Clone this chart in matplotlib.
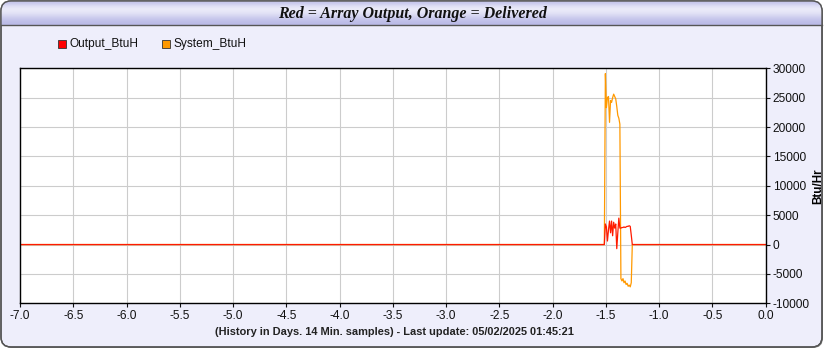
import numpy as np
import matplotlib
matplotlib.use('Agg')
import matplotlib.pyplot as plt
from matplotlib.patches import FancyBboxPatch, Rectangle

# history window, in days before now
x_start, x_end = -7.0, 0.0
sample_days = 14 / 1440.0      # 14 minute samples
spike_start = -1.505           # first non-zero sample

# readings during the active period (one per sample)
system_spike = [29100, 23300, 25000, 25200, 20800, 24500, 24200, 25000, 25600,
                25200, 24800, 23500, 22000, 21500, 20500, -5800, -6200, -5800,
                -6500, -6200, -6800, -6600, -7100, -6900, -7200, -6500, 0]
output_spike = [3500, 3000, 600, 2500, 4000, 2000, 4000, 1500, 3800,
                2800, 3500, -700, 2000, 4500, 2800, 2800, 2900, 2900,
                3000, 2900, 3000, 3100, 3100, 3200, 3100, 1600, 0]

spike_days = spike_start + sample_days * np.arange(len(system_spike))
days = np.concatenate([[x_start, spike_start - sample_days], spike_days, [x_end]])
system_btuh = np.concatenate([[0, 0], system_spike, [0]])
output_btuh = np.concatenate([[0, 0], output_spike, [0]])

title = 'Red = Array Output, Orange = Delivered'
footer = '(History in Days. 14 Min. samples) - Last update: 05/02/2025 01:45:21'
x_ticks = np.arange(-7.0, 0.01, 0.5)
y_ticks = np.arange(-10000, 30001, 5000)

W, H = 825, 350
fig = plt.figure(figsize=(W / 100, H / 100), dpi=100)
fig.patch.set_facecolor('white')

# background frame in pixel coords
bg = fig.add_axes([0, 0, 1, 1], zorder=0)
bg.set_xlim(0, W)
bg.set_ylim(H, 0)
bg.axis('off')
shadow = FancyBboxPatch((3, 3), W - 5, H - 5, boxstyle='round,pad=0,rounding_size=10',
                        fc='#9a9a9a', ec='none', zorder=0)
bg.add_patch(shadow)
frame = FancyBboxPatch((1, 1), W - 4, H - 4, boxstyle='round,pad=0,rounding_size=10',
                       fc='#eeeefb', ec='#555555', lw=1.0, zorder=1)
bg.add_patch(frame)
grad = np.array([0.80, 0.92, 0.97, 0.93, 0.86, 0.80, 0.76])[:, None]
cmap = matplotlib.colors.LinearSegmentedColormap.from_list('banner', ['#b8b8e6', '#f4f4fd'])
im = bg.imshow(grad, cmap=cmap, vmin=0.75, vmax=1.0, aspect='auto',
               extent=(1, W - 3, 25, 1), interpolation='bicubic', zorder=2)
im.set_clip_path(frame)
bg.plot([1, W - 3], [25, 25], color='#555555', lw=1.0, zorder=3)
bg.add_patch(FancyBboxPatch((1, 1), W - 4, H - 4, boxstyle='round,pad=0,rounding_size=10',
                            fc='none', ec='#555555', lw=1.0, zorder=4))
bg.text(W / 2, 14, title, ha='center', va='center', fontsize=11.5,
        family='Liberation Serif', style='italic', weight='bold', color='#111111', zorder=5)

# legend
bg.add_patch(Rectangle((58, 40), 8, 8, fc='#ff0000', ec='#333333', lw=0.6, zorder=5))
bg.text(70, 44.5, 'Output_BtuH', ha='left', va='center', fontsize=8.6,
        family='Liberation Sans', color='#111111', zorder=5)
bg.add_patch(Rectangle((162, 40), 8, 8, fc='#ff9900', ec='#333333', lw=0.6, zorder=5))
bg.text(174, 44.5, 'System_BtuH', ha='left', va='center', fontsize=8.6,
        family='Liberation Sans', color='#111111', zorder=5)
bg.text(394, 332, footer, ha='center', va='center', fontsize=7.9, weight='bold',
        family='Liberation Sans', color='#222222', zorder=5)

# main chart
ax = fig.add_axes([20 / W, 1 - 303.3 / H, (765.7 - 20) / W, (303.3 - 68.3) / H], zorder=2)
ax.set_facecolor('white')
ax.plot(days, system_btuh, color='#ff9900', lw=0.9)
ax.plot(days, output_btuh, color='#ff1a00', lw=0.9)
ax.set_xlim(x_start, x_end)
ax.set_ylim(-10000, 30000)
ax.set_xticks(x_ticks)
ax.set_xticklabels([f'{t:.1f}' for t in x_ticks])
ax.set_yticks(y_ticks)
ax.set_yticklabels([f'{t:d}' for t in y_ticks])
ax.yaxis.tick_right()
ax.yaxis.set_label_position('right')
ax.set_ylabel('Btu/Hr', fontsize=8.4, weight='bold', family='Liberation Sans', labelpad=2)
ax.grid(True, color='#cccccc', lw=0.8)
ax.set_axisbelow(True)
ax.tick_params(axis='both', labelsize=8.6, length=3, width=0.8, pad=2, colors='#111111')
for lab in ax.get_xticklabels() + ax.get_yticklabels():
    lab.set_family('Liberation Sans')
for s in ax.spines.values():
    s.set_color('#000000')
    s.set_linewidth(1.0)

fig.savefig('out.png', dpi=100, facecolor=fig.get_facecolor())
